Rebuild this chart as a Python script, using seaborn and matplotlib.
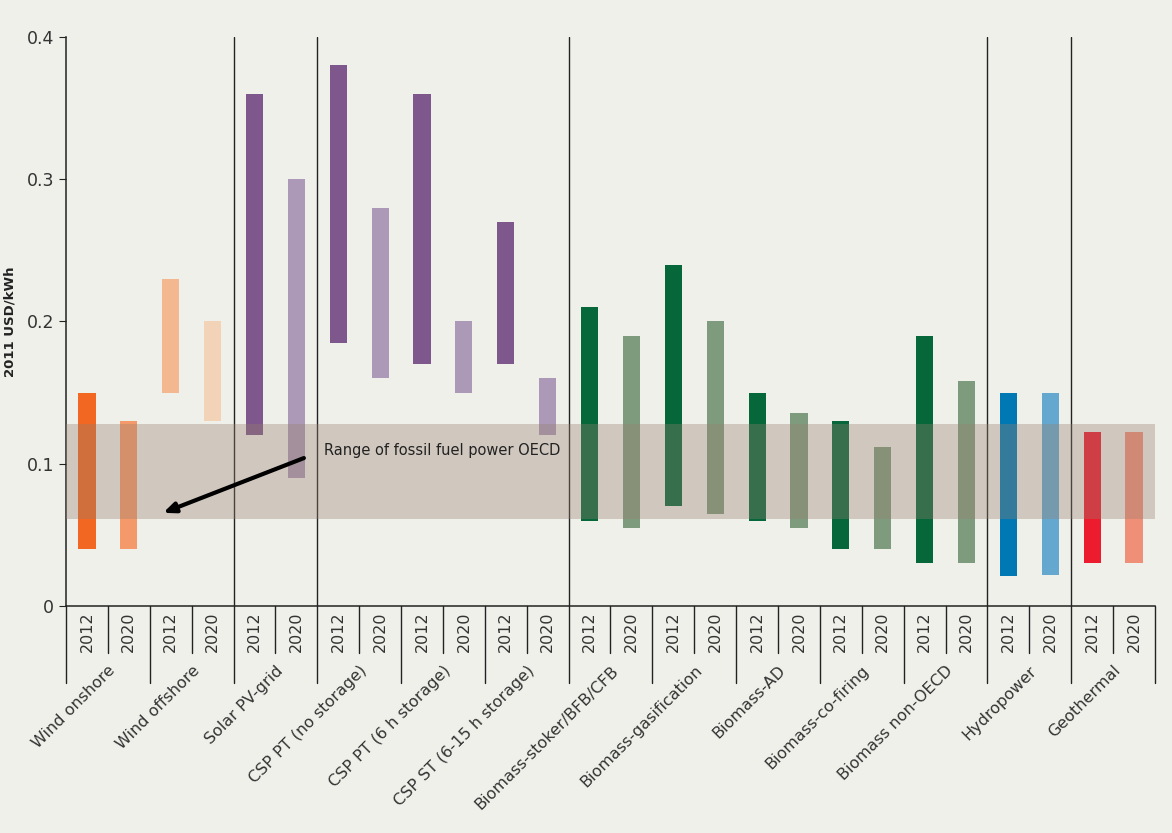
import matplotlib.pyplot as plt
import seaborn as sns
import numpy as np
import pandas as pd

# technologies and the two cost years
techs = ["Wind onshore", "Wind offshore", "Solar PV-grid", "CSP PT (no storage)",
         "CSP PT (6 h storage)", "CSP ST (6-15 h storage)", "Biomass-stoker/BFB/CFB",
         "Biomass-gasification", "Biomass-AD", "Biomass-co-firing", "Biomass non-OECD",
         "Hydropower", "Geothermal"]
years = ["2012", "2020"]

# LCOE ranges, 2011 USD/kWh
low_2012 = [0.04, 0.15, 0.12, 0.185, 0.17, 0.17, 0.06, 0.07, 0.06, 0.04, 0.03, 0.021, 0.03]
high_2012 = [0.15, 0.23, 0.36, 0.38, 0.36, 0.27, 0.21, 0.24, 0.15, 0.13, 0.19, 0.15, 0.122]
low_2020 = [0.04, 0.13, 0.09, 0.16, 0.15, 0.12, 0.055, 0.065, 0.055, 0.04, 0.03, 0.022, 0.03]
high_2020 = [0.13, 0.20, 0.30, 0.28, 0.20, 0.16, 0.19, 0.20, 0.136, 0.112, 0.158, 0.15, 0.122]

fossil_low, fossil_high = 0.061, 0.128

colors_2012 = ["#F26722", "#F3B88F", "#7E578C", "#7E578C", "#7E578C", "#7E578C",
               "#05673A", "#05673A", "#05673A", "#05673A", "#05673A", "#0078B4", "#EC1C2E"]
colors_2020 = ["#F4996A", "#F2D3B8", "#AC98B7", "#AC98B7", "#AC98B7", "#AC98B7",
               "#7F9B7E", "#7F9B7E", "#7F9B7E", "#7F9B7E", "#7F9B7E", "#64A8CF", "#F08F78"]

rows = []
for i, t in enumerate(techs):
    rows.append((f"{t} 2012", "2012", low_2012[i], high_2012[i], colors_2012[i]))
    rows.append((f"{t} 2020", "2020", low_2020[i], high_2020[i], colors_2020[i]))
df = pd.DataFrame(rows, columns=["slot", "year", "low", "high", "color"])
df["span"] = df["high"] - df["low"]

bg = "#F0F0EB"
ink = "#222222"
sns.set_style("ticks")
plt.rcParams["font.family"] = ["DejaVu Sans"]

fig, ax = plt.subplots(figsize=(11.72, 8.33), dpi=100)
fig.patch.set_facecolor(bg)
ax.set_facecolor(bg)
fig.subplots_adjust(left=0.0563, right=0.9855, bottom=0.2725, top=0.9556)

sns.barplot(data=df, x="slot", y="span", order=df["slot"], color=ink, saturation=1,
            bottom=df["low"].to_numpy(), facecolor=df["color"].tolist(), width=0.41,
            errorbar=None, linewidth=0, ax=ax, zorder=2)

# fossil fuel band drawn over the bars
ax.axhspan(fossil_low, fossil_high, color=(150 / 255, 128 / 255, 110 / 255),
           alpha=0.35, lw=0, zorder=3)

# family separators inside the plot
for b in [3.5, 5.5, 11.5, 21.5, 23.5]:
    ax.axvline(b, color=ink, lw=1, zorder=1)

ax.set_ylim(0, 0.4)
ax.set_yticks([0, 0.1, 0.2, 0.3, 0.4])
ax.set_yticklabels(["0", "0.1", "0.2", "0.3", "0.4"], fontsize=12.5, color="#333333")
ax.set_ylabel("2011 USD/kWh", fontsize=9.5, fontweight="bold", color=ink, labelpad=7)

ax.set_xticks(range(len(df)))
ax.set_xticklabels(df["year"], rotation=90, fontsize=11.5, color="#333333")
ax.tick_params(axis="x", length=0, pad=4)
ax.tick_params(axis="y", length=5, color=ink)
ax.set_xlabel("")

sns.despine(ax=ax)
for s in ["left", "bottom"]:
    ax.spines[s].set_color(ink)
    ax.spines[s].set_linewidth(1.1)

# separators under the axis
trans = ax.get_xaxis_transform()
for i in range(len(df) + 1):
    y_end = -0.135 if i % 2 == 0 else -0.083
    ax.plot([i - 0.5, i - 0.5], [0, y_end], transform=trans, clip_on=False,
            color=ink, lw=1)

for k, t in enumerate(techs):
    ax.text(2 * k + 0.5, -0.1, t, transform=trans, rotation=45,
            rotation_mode="anchor", ha="right", va="top", fontsize=11.5, color="#333333")

ax.annotate("", xy=(1.82, 0.0655), xytext=(5.18, 0.104),
            arrowprops=dict(arrowstyle="-|>,head_length=0.7,head_width=0.3",
                            color="black", lw=3, shrinkA=0, shrinkB=0), zorder=5)
ax.text(5.66, 0.109, "Range of fossil fuel power OECD", fontsize=10.5, va="center",
        ha="left", color=ink, zorder=5)

ax.set_xlim(-0.5, len(df) - 0.5)

fig.savefig("out.png", dpi=100, facecolor=bg)
